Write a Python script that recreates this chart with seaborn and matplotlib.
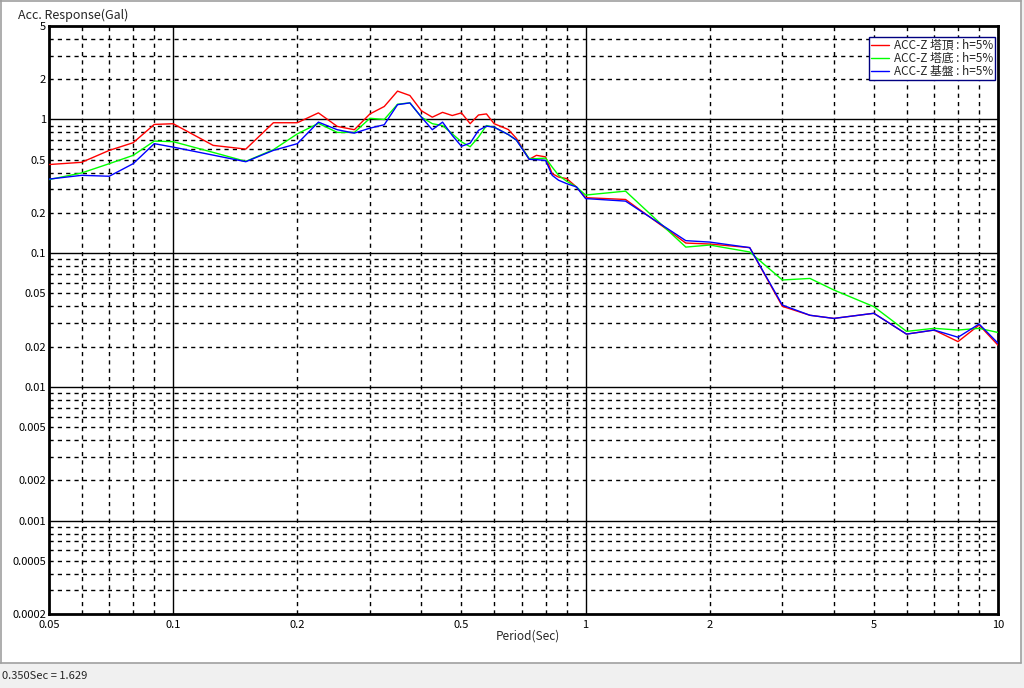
import numpy as np
import pandas as pd
import matplotlib
matplotlib.use("Agg")
import matplotlib.pyplot as plt
from matplotlib.patches import Rectangle
from matplotlib.lines import Line2D
import seaborn as sns

# Response spectrum data
period = [0.05, 0.06, 0.07, 0.08, 0.09, 0.1, 0.125, 0.15, 0.175, 0.2,
          0.225, 0.25, 0.275, 0.3, 0.325, 0.35, 0.375, 0.4, 0.425, 0.45,
          0.475, 0.5, 0.525, 0.55, 0.575, 0.6, 0.65, 0.68, 0.73, 0.76,
          0.8, 0.83, 0.86, 0.9, 0.95, 1.0, 1.25, 1.75, 2.0, 2.5,
          3.0, 3.5, 4.0, 5.0, 6.0, 7.0, 8.0, 9.0, 10.0]

acc_top = [0.46, 0.478, 0.587, 0.67, 0.918, 0.929, 0.64, 0.60, 0.945, 0.945,
           1.12, 0.887, 0.838, 1.10, 1.25, 1.629, 1.51, 1.16, 1.04, 1.13,
           1.07, 1.12, 0.93, 1.08, 1.10, 0.93, 0.84, 0.72, 0.503, 0.539,
           0.525, 0.393, 0.371, 0.361, 0.313, 0.26, 0.252, 0.119, 0.117, 0.110,
           0.040, 0.0343, 0.0325, 0.0355, 0.0248, 0.0266, 0.0218, 0.029, 0.0205]

acc_base = [0.355, 0.398, 0.467, 0.539, 0.689, 0.682, 0.567, 0.486, 0.594, 0.78,
            0.935, 0.80, 0.80, 1.02, 1.0, 1.30, 1.33, 1.04, 0.93, 0.90,
            0.78, 0.68, 0.625, 0.738, 0.90, 0.876, 0.77, 0.70, 0.51, 0.509,
            0.514, 0.44, 0.382, 0.345, 0.313, 0.272, 0.291, 0.111, 0.115, 0.102,
            0.063, 0.0647, 0.053, 0.0398, 0.026, 0.0274, 0.0266, 0.0274, 0.0255]

acc_ground = [0.358, 0.382, 0.376, 0.467, 0.659, 0.621, 0.541, 0.483, 0.587, 0.659,
              0.955, 0.838, 0.79, 0.861, 0.913, 1.29, 1.33, 1.04, 0.838, 0.955,
              0.76, 0.63, 0.665, 0.828, 0.891, 0.876, 0.77, 0.70, 0.503, 0.50,
              0.494, 0.382, 0.351, 0.331, 0.313, 0.256, 0.245, 0.124, 0.121, 0.110,
              0.0409, 0.0343, 0.0325, 0.0355, 0.0248, 0.0266, 0.0235, 0.0295, 0.0212]

series_names = ["ACC-Z 塔頂 : h=5%", "ACC-Z 塔底 : h=5%", "ACC-Z 基盤 : h=5%"]
series_colors = ["#ff0000", "#00ff00", "#0000ff"]

x_ticks = [0.05, 0.1, 0.2, 0.5, 1, 2, 5, 10]
x_labels = ["0.05", "0.1", "0.2", "0.5", "1", "2", "5", "10"]
y_ticks = [0.0002, 0.0005, 0.001, 0.002, 0.005, 0.01, 0.02, 0.05, 0.1, 0.2, 0.5, 1, 2, 5]
y_labels = ["0.0002", "0.0005", "0.001", "0.002", "0.005", "0.01", "0.02", "0.05",
            "0.1", "0.2", "0.5", "1", "2", "5"]

df = pd.DataFrame({
    "period": period * 3,
    "acc": acc_top + acc_base + acc_ground,
    "series": sum([[n] * len(period) for n in series_names], []),
})

sns.set_style("white")
plt.rcParams["font.family"] = ["Noto Sans CJK JP", "DejaVu Sans"]

fig = plt.figure(figsize=(10.24, 6.88), dpi=100)
W, H = 1024, 688

# window frame + status bar
fig.patches.append(Rectangle((0, 0), 1, 1, transform=fig.transFigure,
                             facecolor="white", edgecolor="none", zorder=-10))
fig.patches.append(Rectangle((0, 0), 1, 25 / H, transform=fig.transFigure,
                             facecolor="#f0f0f0", edgecolor="none", zorder=-9))
fig.patches.append(Rectangle((1021 / W, 0), 3 / W, 1, transform=fig.transFigure,
                             facecolor="#f0f0f0", edgecolor="none", zorder=-9))
fig.lines.append(Line2D([0, 1021 / W], [1 - 663 / H] * 2, transform=fig.transFigure,
                        color="#a0a0a0", lw=1.2))
fig.lines.append(Line2D([1021 / W] * 2, [1 - 663 / H, 1], transform=fig.transFigure,
                        color="#a0a0a0", lw=1.2))
fig.lines.append(Line2D([0.5 / W] * 2, [1 - 663 / H, 1], transform=fig.transFigure,
                        color="#a0a0a0", lw=1.2))
fig.lines.append(Line2D([0, 1021 / W], [1 - 0.5 / H] * 2, transform=fig.transFigure,
                        color="#a0a0a0", lw=1.2))

ax = fig.add_axes([49 / W, 1 - 614 / H, 949 / W, 588 / H])

sns.lineplot(data=df, x="period", y="acc", hue="series", hue_order=series_names,
             palette=series_colors, linewidth=1.0, ax=ax, legend=False, sort=False,
             zorder=5)

ax.set_xscale("log")
ax.set_yscale("log")
ax.set_xlim(0.05, 10)
ax.set_ylim(0.0002, 5)

# grid: decades solid, intermediate dashed
for dec in [0.01, 0.1, 1]:
    for m in range(1, 10):
        v = dec * m
        if 0.05 < v < 10:
            if m == 1:
                ax.axvline(v, color="black", lw=1.0, zorder=1)
            else:
                ax.axvline(v, color="black", lw=1.0, ls=(0, (3, 3)), zorder=1)
for dec in [0.0001, 0.001, 0.01, 0.1, 1]:
    for m in range(1, 10):
        v = dec * m
        if 0.0002 < v < 5:
            if m == 1:
                ax.axhline(v, color="black", lw=1.0, zorder=1)
            else:
                ax.axhline(v, color="black", lw=1.0, ls=(0, (3, 3)), zorder=1)

ax.set_xticks(x_ticks)
ax.set_xticklabels(x_labels)
ax.set_yticks(y_ticks)
ax.set_yticklabels(y_labels)
ax.minorticks_off()
ax.tick_params(axis="both", length=0, labelsize=8, colors="black")
ax.tick_params(axis="x", pad=4)
ax.tick_params(axis="y", pad=2)

for s in ax.spines.values():
    s.set_visible(True)
    s.set_color("black")
    s.set_linewidth(2.0)

ax.set_xlabel("Period(Sec)", fontsize=8.5)
ax.xaxis.set_label_coords(0.505, -0.026)
ax.set_ylabel("")
fig.text(18 / W, 1 - 15 / H, "Acc. Response(Gal)", fontsize=9, va="center", ha="left")

handles = [Line2D([], [], color=c, lw=1.0) for c in series_colors]
leg = ax.legend(handles, series_names, loc="upper right", bbox_to_anchor=(0.997, 0.981),
                fontsize=8.5, frameon=True, fancybox=False, framealpha=1,
                edgecolor="#000080", borderpad=0.15, labelspacing=0.0,
                handlelength=1.6, handletextpad=0.4, borderaxespad=0)
leg.get_frame().set_linewidth(1.0)
leg.set_zorder(10)

fig.text(2 / W, 1 - 676 / H, "0.350Sec = 1.629", fontsize=8, va="center", ha="left")

fig.savefig("out.png", dpi=100)
